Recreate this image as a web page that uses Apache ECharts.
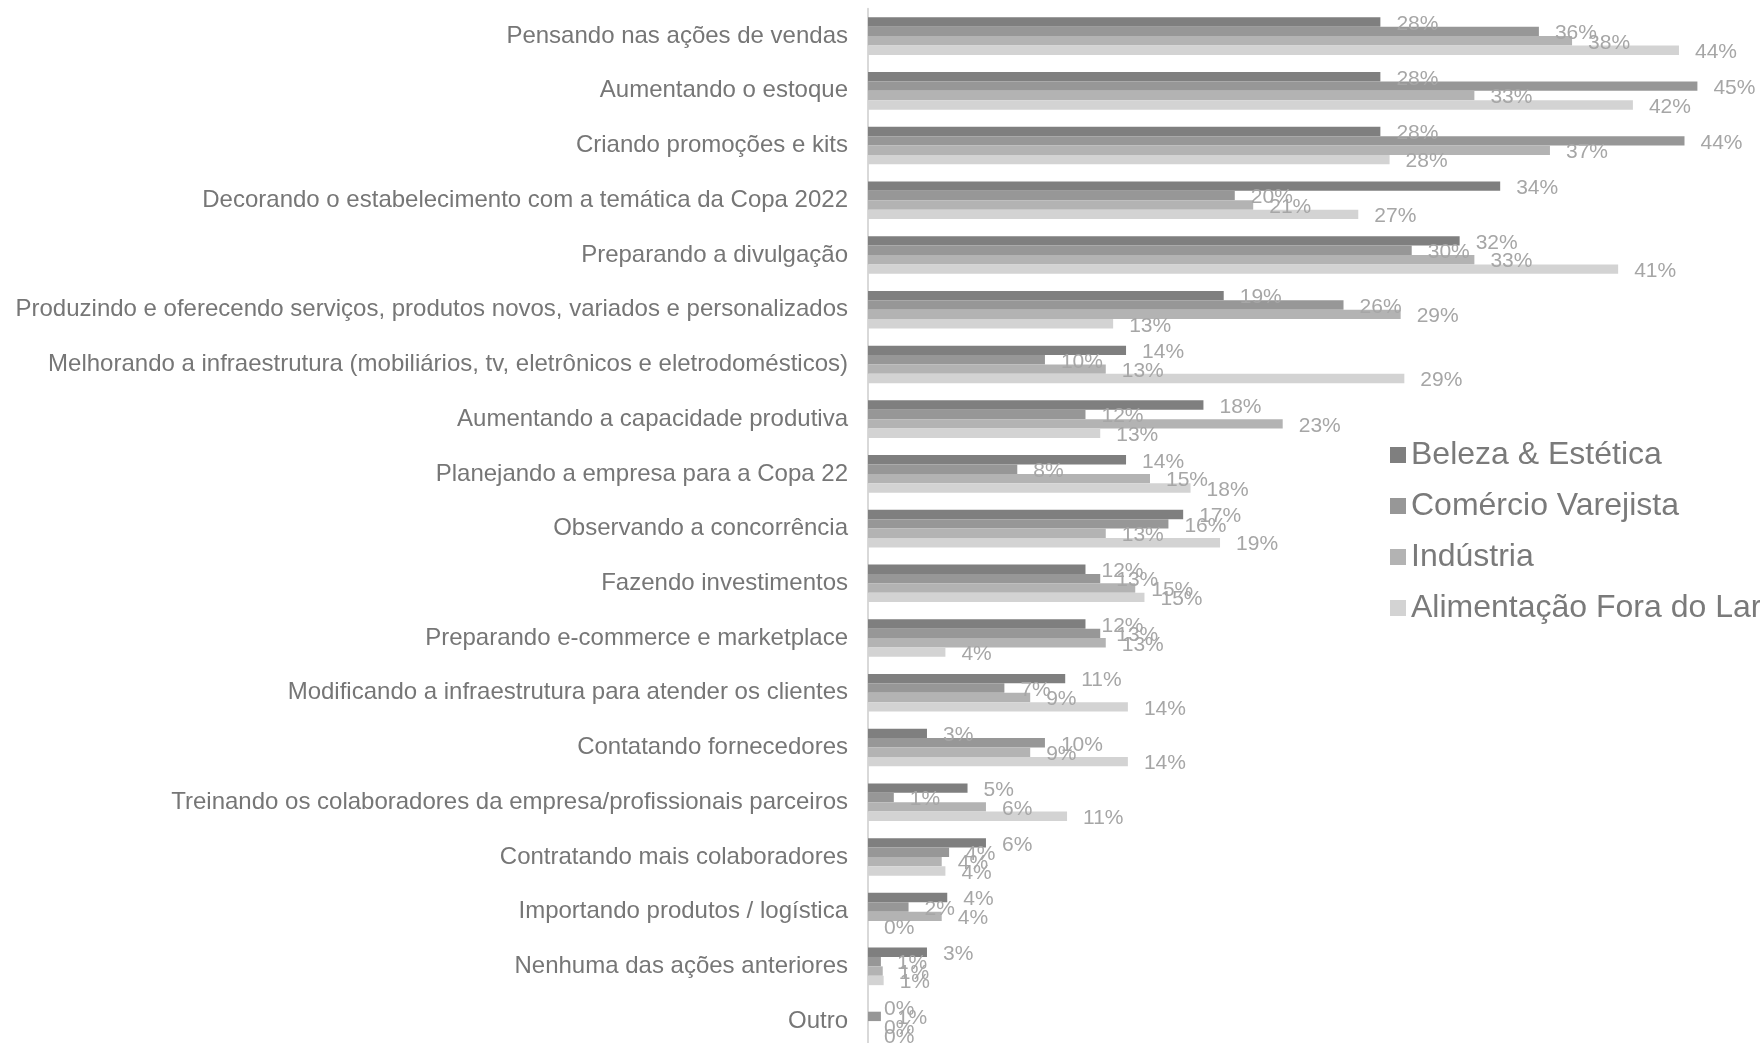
<!DOCTYPE html>
<html>
<head>
<meta charset="utf-8">
<script src="https://cdn.jsdelivr.net/npm/echarts@6/dist/echarts.min.js"></script>
<style>
    html,body{margin:0;padding:0;background:#fff;}
    #acoes{width:1760px;height:1043px;}
</style>
</head>
<body>
<div id="acoes"></div>
<script>
let categorias = [
    "Pensando nas ações de vendas",
    "Aumentando o estoque",
    "Criando promoções e kits",
    "Decorando o estabelecimento com a temática da Copa 2022",
    "Preparando a divulgação",
    "Produzindo e oferecendo serviços, produtos novos, variados e personalizados",
    "Melhorando a infraestrutura (mobiliários, tv, eletrônicos e eletrodomésticos)",
    "Aumentando a capacidade produtiva",
    "Planejando a empresa para a Copa 22",
    "Observando a concorrência",
    "Fazendo investimentos",
    "Preparando e-commerce e marketplace",
    "Modificando a infraestrutura para atender os clientes",
    "Contatando fornecedores",
    "Treinando os colaboradores da empresa/profissionais parceiros",
    "Contratando mais colaboradores",
    "Importando produtos / logística",
    "Nenhuma das ações anteriores",
    "Outro"
];
let beleza      = [27.8, 27.8, 27.8, 34.3, 32.1, 19.3, 14.0, 18.2, 14.0, 17.1, 11.8, 11.8, 10.7, 3.2, 5.4, 6.4, 4.3, 3.2, 0];
let comercio    = [36.4, 45.0, 44.3, 19.9, 29.5, 25.8, 9.6, 11.8, 8.1, 16.3, 12.6, 12.6, 7.4, 9.6, 1.4, 4.4, 2.2, 0.7, 0.7];
let industria   = [38.2, 32.9, 37.0, 20.9, 32.9, 28.9, 12.9, 22.5, 15.3, 12.9, 14.5, 12.9, 8.8, 8.8, 6.4, 4.0, 4.0, 0.8, 0];
let alimentacao = [44.0, 41.5, 28.3, 26.6, 40.7, 13.3, 29.1, 12.6, 17.5, 19.1, 15.0, 4.2, 14.1, 14.1, 10.8, 4.2, 0, 0.85, 0];

let nomes = ["Beleza & Estética","Comércio Varejista","Indústria","Alimentação Fora do Lar"];
let cores = ["#7f7f7f","#979797","#b3b3b3","#d3d3d3"];
let dados = [beleza, comercio, industria, alimentacao];

let fonte = "'Liberation Sans', Arial, sans-serif";

let series = [];
for(let i=0;i<dados.length;i++){
    series.push({
        name:nomes[i],
        type:'bar',
        color:cores[i],
        barWidth:9.4,
        barGap:'0%',
        label:{
            show:true,
            position:'right',
            distance:16,
            offset:[0,2],
            fontFamily:fonte,
            fontSize:21,
            color:'#a6a6a6',
            formatter:function(p){
                return Math.round(p.value)+'%';
            }
        },
        data:dados[i]
    });
}

echarts.init(document.getElementById('acoes')).setOption({
    animation:false,
    legend:{
        orient:'vertical',
        left:1385,
        top:434,
        icon:'rect',
        itemWidth:16,
        itemHeight:16,
        itemGap:19,
        textStyle:{
            fontFamily:fonte,
            fontSize:32,
            lineHeight:32,
            color:'#7a7a7a'
        },
        data:nomes
    },
    grid:{
        left:868,
        top:8.75,
        width:829.4,
        height:1039.7,
        outerBoundsMode:'none'
    },
    xAxis:{
        type:'value',
        min:0,
        max:45,
        show:false
    },
    yAxis:{
        type:'category',
        inverse:true,
        data:categorias,
        axisLine:{
            show:true,
            lineStyle:{color:'#d9d9d9',width:2}
        },
        axisTick:{show:false},
        axisLabel:{
            margin:20,
            fontFamily:fonte,
            fontSize:24,
            color:'#767676'
        }
    },
    series:series
});
</script>
</body>
</html>
